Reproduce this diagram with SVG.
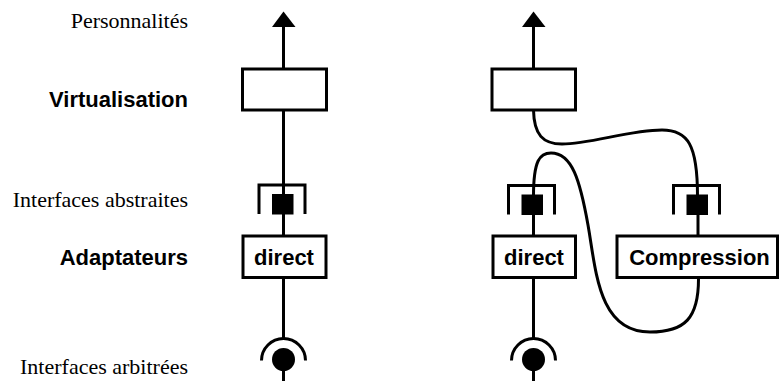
<svg xmlns="http://www.w3.org/2000/svg" width="779" height="381" viewBox="0 0 779 381">
<style>
.ln{fill:none;stroke:#000;stroke-width:3}
.box{fill:#fff;stroke:#000;stroke-width:3}
.serif{font-family:"Liberation Serif","Times New Roman",serif;font-size:22px;fill:#000}
.bold{font-family:"Liberation Sans",Arial,sans-serif;font-size:22px;font-weight:bold;fill:#000}
.r{text-anchor:end}
.m{text-anchor:middle}
</style>
<defs>
<g id="iface">
<path class="ln" d="M-24.5,29 V0 H21.5 V29"/>
<rect x="-11.5" y="9" width="21.5" height="20.5" fill="#000"/>
</g>
<g id="recept">
<path class="ln" d="M-22,1 A22,22 0 0 1 22,1"/>
<circle cx="0" cy="0" r="11.5" fill="#000"/>
</g>
</defs>
<g id="labels">
<text class="serif r" x="188" y="28">Personnalités</text>
<text class="bold r" x="188" y="107">Virtualisation</text>
<text class="serif r" x="188" y="206.5">Interfaces abstraites</text>
<text class="bold r" x="188" y="265">Adaptateurs</text>
<text class="serif r" x="188" y="374">Interfaces arbitrées</text>
</g>
<g id="connectors">
<path class="ln" d="M283.5,26 V69 M283.5,110 V196 M283.5,212 V236 M283.5,277.5 V338 M283.5,370 V381"/>
<path class="ln" d="M533.5,26 V69 M533.5,212 V236 M533.5,277.5 V338 M533.5,370 V381"/>
<path class="ln" d="M698,212 V236"/>
<path class="ln" d="M533.5,110 C534,135 543,144 562,144 C590,144 630,130 662,130 C688,130 697.5,145 697.5,196"/>
<path class="ln" d="M533.5,196 C533.5,160 540,153 551,153 C572,153 580,180 588,225 C596,270 598,332 650,332 C685,332 698.5,318 698.5,279"/>
<polygon points="283.5,11.5 272,27 295.5,27" fill="#000"/>
<polygon points="533.5,11.5 522,27 545.5,27" fill="#000"/>
</g>
<g id="virt1"><rect class="box" x="242.5" y="69" width="84" height="41"/></g>
<g id="virt2"><rect class="box" x="492" y="69" width="83.5" height="41"/></g>
<g id="ifa1"><use href="#iface" x="283.5" y="185"/></g>
<g id="ifa2"><use href="#iface" x="533" y="185.5"/></g>
<g id="ifa3"><use href="#iface" x="698" y="185.5"/></g>
<g id="direct1"><rect class="box" x="243" y="236" width="83" height="41.5"/><text class="bold m" x="284" y="265">direct</text></g>
<g id="direct2"><rect class="box" x="493" y="236" width="82.5" height="41.5"/><text class="bold m" x="534" y="265">direct</text></g>
<g id="compression"><rect class="box" x="617" y="236" width="160.5" height="41.5"/><text class="bold m" x="699.5" y="264.5">Compression</text></g>
<g id="rec1"><use href="#recept" x="283.5" y="359.5"/></g>
<g id="rec2"><use href="#recept" x="533.5" y="359.5"/></g>
</svg>
